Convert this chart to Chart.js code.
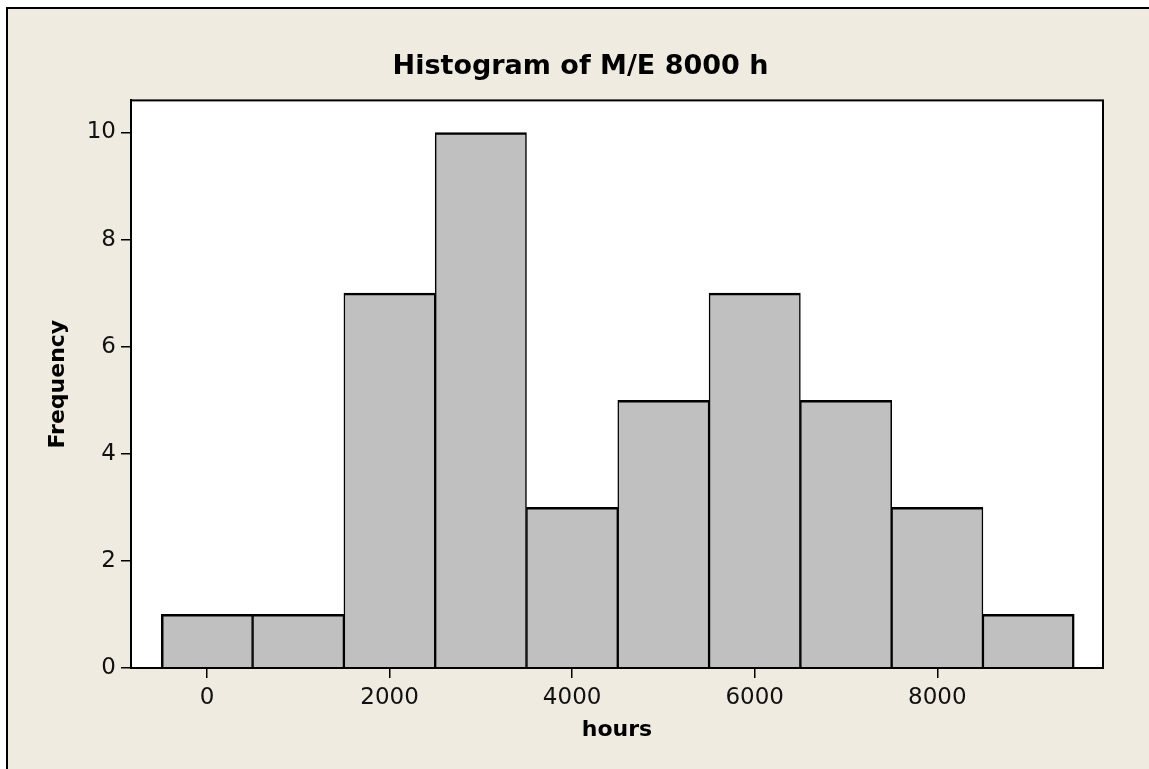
<!DOCTYPE html>
<html>
<head>
<meta charset="utf-8">
<script src="https://cdn.jsdelivr.net/npm/chart.js@4/dist/chart.umd.min.js"></script>
<style>
  html, body { margin: 0; padding: 0; background: #ffffff; }
  #wrap { width: 1149px; height: 769px; position: relative; }
</style>
</head>
<body>
<div id="wrap"><canvas id="c"></canvas></div>
<script>
// ---- data ----
const binCenters = [0, 1000, 2000, 3000, 4000, 5000, 6000, 7000, 8000, 9000];
const frequencies = [1, 1, 7, 10, 3, 5, 7, 5, 3, 1];
const xTicks = [0, 2000, 4000, 6000, 8000];
const yTicks = [0, 2, 4, 6, 8, 10];
const chartTitle = 'Histogram of M/E 8000 h';
const xTitle = 'hours';
const yTitle = 'Frequency';

const points = binCenters.map((c, i) => ({ x: c, y: frequencies[i] }));

const FONT = "'DejaVu Sans', sans-serif";
const BEIGE = '#EFEBE1';

const framePlugin = {
  id: 'frame',
  beforeDraw(chart) {
    const ctx = chart.ctx;
    const { width, height, chartArea: a } = chart;
    ctx.save();
    ctx.fillStyle = '#ffffff';
    ctx.fillRect(0, 0, width, height);
    ctx.fillStyle = BEIGE;
    ctx.fillRect(7, 8, width - 7, height - 8);
    ctx.strokeStyle = '#000';
    ctx.lineWidth = 2;
    ctx.beginPath();
    ctx.moveTo(7, height);
    ctx.lineTo(7, 8);
    ctx.lineTo(width, 8);
    ctx.stroke();
    ctx.fillStyle = '#ffffff';
    ctx.fillRect(a.left, a.top, a.right - a.left, a.bottom - a.top);
    ctx.restore();
  },
  afterDatasetsDraw(chart) {
    const ctx = chart.ctx;
    const a = chart.chartArea;
    ctx.save();
    ctx.strokeStyle = '#000';
    ctx.lineWidth = 2;
    ctx.strokeRect(a.left, a.top, a.right - a.left, a.bottom - a.top);
    ctx.restore();
  }
};

new Chart(document.getElementById('c'), {
  type: 'bar',
  data: {
    datasets: [{
      data: points,
      backgroundColor: '#C0C0C0',
      borderColor: '#000000',
      borderWidth: (ctx) => ({
        top: 2.5,
        bottom: 0,
        left: ctx.dataIndex === 0 ? 2.5 : 1.5,
        right: ctx.dataIndex === frequencies.length - 1 ? 2.5 : 1.5
      }),
      borderSkipped: false,
      barPercentage: 1,
      categoryPercentage: 1,
      grouped: false
    }]
  },
  options: {
    responsive: true,
    maintainAspectRatio: false,
    animation: false,
    devicePixelRatio: 1,
    layout: { padding: { left: 12, right: 0, top: 0, bottom: 0 } },
    plugins: {
      legend: { display: false },
      tooltip: { enabled: false },
      title: {
        display: true,
        text: chartTitle,
        color: '#000',
        font: { family: FONT, size: 27, weight: 'bold' },
        padding: { top: 51, bottom: 17 }
      }
    },
    scales: {
      x: {
        type: 'linear',
        min: -832,
        max: 9815,
        offset: false,
        afterBuildTicks: (s) => { s.ticks = xTicks.map(v => ({ value: v })); },
        afterFit: (s) => { s.height = 101; },
        ticks: {
          color: '#111',
          font: { family: FONT, size: 23 },
          padding: 6,
          maxRotation: 0,
          autoSkip: false,
          callback: (v) => String(v)
        },
        grid: {
          display: true,
          offset: false,
          drawOnChartArea: false,
          drawTicks: true,
          tickLength: 10,
          color: '#000',
          lineWidth: 1.5
        },
        border: { display: true, color: '#000', width: 2 },
        title: {
          display: true,
          text: xTitle,
          color: '#000',
          font: { family: FONT, size: 22, weight: 'bold' },
          padding: 26
        }
      },
      y: {
        type: 'linear',
        min: 0,
        max: 10.6,
        afterBuildTicks: (s) => { s.ticks = yTicks.map(v => ({ value: v })); },
        afterFit: (s) => { s.width = 119; },
        ticks: {
          color: '#111',
          font: { family: FONT, size: 23 },
          padding: 5,
          autoSkip: false
        },
        grid: {
          display: true,
          offset: false,
          drawOnChartArea: false,
          drawTicks: true,
          tickLength: 10,
          color: '#000',
          lineWidth: 1.5
        },
        border: { display: true, color: '#000', width: 2 },
        title: {
          display: true,
          text: yTitle,
          color: '#000',
          font: { family: FONT, size: 22, weight: 'bold' },
          padding: 33
        }
      },
      yRight: {
        type: 'linear',
        position: 'right',
        display: true,
        afterFit: (s) => { s.width = 46; },
        ticks: { display: false },
        grid: { display: false, drawTicks: false },
        border: { display: false },
        title: { display: false }
      }
    }
  },
  plugins: [framePlugin]
});
</script>
</body>
</html>
